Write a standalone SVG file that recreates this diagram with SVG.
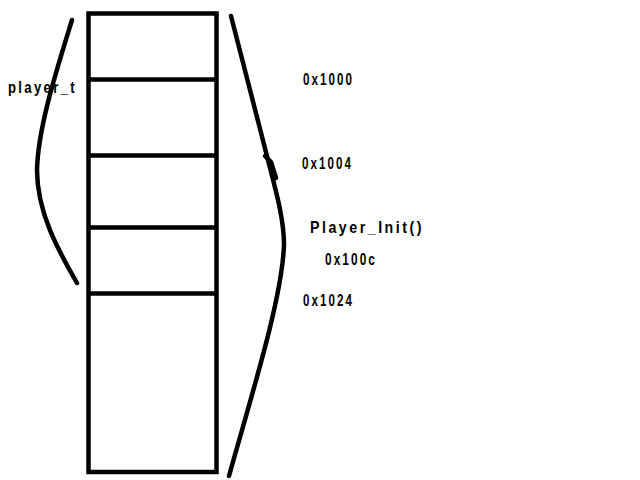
<svg xmlns="http://www.w3.org/2000/svg" width="640" height="480" viewBox="0 0 640 480">
<style>
.ln{fill:none;stroke:#000;stroke-width:4.5;stroke-linecap:round;stroke-linejoin:round}
.box{fill:none;stroke:#000;stroke-width:4.5}
.t{font-family:"Liberation Sans",Arial,sans-serif;font-weight:bold;font-size:17px;fill:#000;letter-spacing:3px}
</style>
<rect width="640" height="480" fill="#fff"/>
<g id="memory">
<rect class="box" x="88.5" y="13.5" width="128" height="458.5"/>
<line class="box" x1="88.5" y1="79.5" x2="216.5" y2="79.5"/>
<line class="box" x1="88.5" y1="155.5" x2="216.5" y2="155.5"/>
<line class="box" x1="88.5" y1="227.5" x2="216.5" y2="227.5"/>
<line class="box" x1="88.5" y1="293.5" x2="216.5" y2="293.5"/>
</g>
<g id="connectors">
<path class="ln" d="M72,20 C56,72 38,128 37,170 C37,212 58,250 77,283"/>
<path class="ln" d="M231,16 C245,70 258,120 268,160 C277,195 284,220 284,245 C282,300 250,400 229,476"/>
<path class="ln" d="M265,156 L271,162 L276,178"/>
</g>
<g id="player_t"><text class="t" x="8" y="93" textLength="69" lengthAdjust="spacingAndGlyphs">player_t</text></g>
<g id="addr_1000"><text class="t" x="303" y="85" textLength="51" lengthAdjust="spacingAndGlyphs">0x1000</text></g>
<g id="addr_1004"><text class="t" x="302" y="169" textLength="51" lengthAdjust="spacingAndGlyphs">0x1004</text></g>
<g id="player_init"><text class="t" x="310" y="233" textLength="114" lengthAdjust="spacingAndGlyphs">Player_Init()</text></g>
<g id="addr_100c"><text class="t" x="325" y="265" textLength="52" lengthAdjust="spacingAndGlyphs">0x100c</text></g>
<g id="addr_1024"><text class="t" x="303" y="306" textLength="51" lengthAdjust="spacingAndGlyphs">0x1024</text></g>
</svg>
